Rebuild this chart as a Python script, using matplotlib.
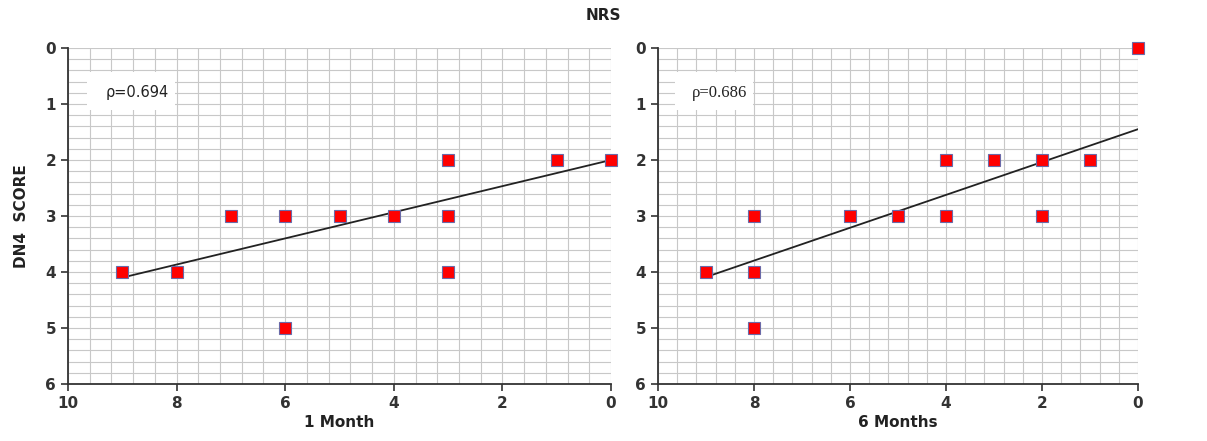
import numpy as np
import matplotlib
matplotlib.use("Agg")
import matplotlib.pyplot as plt
from matplotlib.ticker import MultipleLocator
from matplotlib.patches import Rectangle

# Data
nrs_1m = [9, 8, 7, 6, 6, 5, 4, 3, 3, 3, 1, 0]
dn4_1m = [4, 4, 3, 3, 5, 3, 3, 2, 3, 4, 2, 2]
nrs_6m = [9, 8, 8, 8, 6, 5, 4, 4, 3, 2, 2, 1, 0]
dn4_6m = [4, 3, 4, 5, 3, 3, 2, 3, 2, 2, 3, 2, 0]
# trend lines (x range and y values at ends)
trend_x = [9, 0]
trend_1m = [4.1, 2.0]
trend_6m = [4.09, 1.45]
rho_labels = ["\u03c1=0.694", "\u03c1=0.686"]
panel_labels = ["1 Month", "6 Months"]
x_ticks = [10, 8, 6, 4, 2, 0]
y_ticks = [0, 1, 2, 3, 4, 5, 6]

W, H = 1207, 441
fig = plt.figure(figsize=(W / 100, H / 100), dpi=100)

axes_px = [(68, 611), (658, 1138)]
top_px, bot_px = 48, 384

datasets = [(nrs_1m, dn4_1m, trend_1m), (nrs_6m, dn4_6m, trend_6m)]
rho_fonts = [("DejaVu Sans", 10.5), ("Liberation Serif", 12)]

for i, ((x0, x1), (xs, ys, tr)) in enumerate(zip(axes_px, datasets)):
    ax = fig.add_axes([x0 / W, 1 - bot_px / H, (x1 - x0) / W, (bot_px - top_px) / H])
    ax.set_xlim(10, 0)
    ax.set_ylim(6, 0)
    ax.xaxis.set_major_locator(MultipleLocator(2))
    ax.yaxis.set_major_locator(MultipleLocator(1))
    ax.xaxis.set_minor_locator(MultipleLocator(0.4))
    ax.yaxis.set_minor_locator(MultipleLocator(0.2))
    ax.grid(which="both", color="#c8c8c8", linewidth=0.8)
    ax.set_axisbelow(True)
    for s in ["top", "right"]:
        ax.spines[s].set_visible(False)
    for s in ["left", "bottom"]:
        ax.spines[s].set_color("#333333")
        ax.spines[s].set_linewidth(1.3)
    ax.tick_params(which="minor", length=0)
    ax.tick_params(which="major", length=5, width=1.2, color="#333333",
                   labelsize=11, labelcolor="#333333")
    ax.set_xticks(x_ticks)
    ax.set_yticks(y_ticks)
    ax.set_xticklabels([str(t) for t in x_ticks], fontweight="bold")
    ax.set_yticklabels([str(t) for t in y_ticks], fontweight="bold")

    # white label box behind the correlation text
    ax.add_patch(Rectangle((9.65, 0.43), -1.62, 0.67, facecolor="white",
                           edgecolor="none", zorder=2.5))
    ax.plot(trend_x, tr, color="#222222", linewidth=1.3, zorder=3)
    ax.plot(xs, ys, linestyle="none", marker="s", markersize=9,
            markerfacecolor="#ff0000", markeredgecolor="#6a6aa8",
            markeredgewidth=0.8, zorder=4, clip_on=False)

    fam, fs = rho_fonts[i]
    ax.text(9.3, 0.8, rho_labels[i], fontsize=fs, family=fam,
            color="#222222", va="center", ha="left", zorder=5)
    ax.set_xlabel(panel_labels[i], fontsize=11, fontweight="bold",
                  color="#222222", labelpad=3)
    if i == 0:
        ax.set_ylabel("DN4  SCORE", fontsize=11, fontweight="bold",
                      color="#222222", labelpad=12)

fig.text(603 / W, 1 - 16 / H, "NRS", ha="center", va="center",
         fontsize=11, fontweight="bold", color="#222222")

fig.savefig("out.png", dpi=100, facecolor="white")
